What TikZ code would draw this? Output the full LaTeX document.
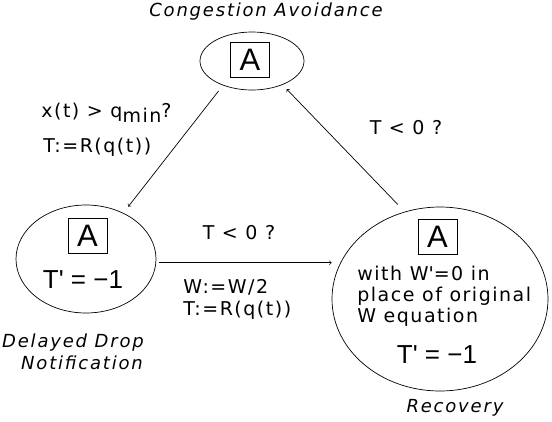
\documentclass[tikz,border=0pt]{standalone}
\usepackage{fontspec}
\setmainfont{Liberation Sans}
\newfontfamily\lblfont[LetterSpace=8]{DejaVu Sans}
\newfontfamily\capfont[LetterSpace=10]{DejaVu Sans}
\usetikzlibrary{shapes.geometric}
\tikzset{
  state/.style={draw, ellipse, inner sep=0pt, line width=0.7pt},
  abox/.style={draw, line width=0.7pt, inner sep=0pt, minimum width=39pt, minimum height=35pt, font=\fontsize{31}{31}\selectfont},
  big/.style={font=\fontsize{26}{26}\selectfont},
  lbl/.style={font=\lblfont\fontsize{19}{21}\selectfont, inner sep=0pt},
  caption/.style={font=\capfont\itshape\fontsize{18}{20}\selectfont, inner sep=0pt}
}
\begin{document}
\begin{tikzpicture}[>=to, x=1pt, y=-1pt, line width=0.7pt]
\useasboundingbox (0,0) rectangle (552,421);
% congestion avoidance
\node[state, minimum width=104pt, minimum height=58pt] (ca) at (252,61) {};
\node[abox] (caA) at (250,59.5) {A};
\node[caption] (caT) at (266,12) {Congestion Avoidance};
% delayed drop notification
\node[state, minimum width=140pt, minimum height=108pt] (dd) at (86,259) {};
\node[abox] (ddA) at (87.5,235.5) {A};
\node[big] (ddT) at (83,280) {T\textquotesingle{} = −1};
\node[caption] (ddT1) at (73,343) {Delayed Drop};
\node[caption] (ddT2) at (82,363) {Notification};
% recovery
\node[state, minimum width=216pt, minimum height=184pt] (rc) at (440,299) {};
\node[abox] (rcA) at (437.5,236.5) {A};
\node[lbl, anchor=west, align=left] (rcW) at (357,296) {with W\textquotesingle=0 in\\place of original\\W equation};
\node[big] (rcT) at (437,355) {T\textquotesingle{} = −1};
\node[caption] (rcT1) at (455,408) {Recovery};
% transitions
\draw[->, shorten <=7pt, shorten >=8pt] (ca.220) -- (dd.51);
\node[lbl, anchor=west] (l1) at (41,113) {x(t) > q\raisebox{-5pt}{min}?};
\node[lbl, anchor=west] (l2) at (43,147) {T:=R(q(t))};
\draw[->, shorten <=3pt] (dd.-3) -- (dd.-3 -| rc.west);
\node[lbl] (l3) at (239,233) {T < 0 ?};
\node[lbl, anchor=west] (l4) at (183,287) {W:=W/2};
\node[lbl, anchor=west] (l5) at (183,310) {T:=R(q(t))};
\draw[->, shorten <=10pt, shorten >=6pt] (rc.112) -- (ca.322);
\node[lbl] (l6) at (406,128) {T < 0 ?};
\end{tikzpicture}
\end{document}
